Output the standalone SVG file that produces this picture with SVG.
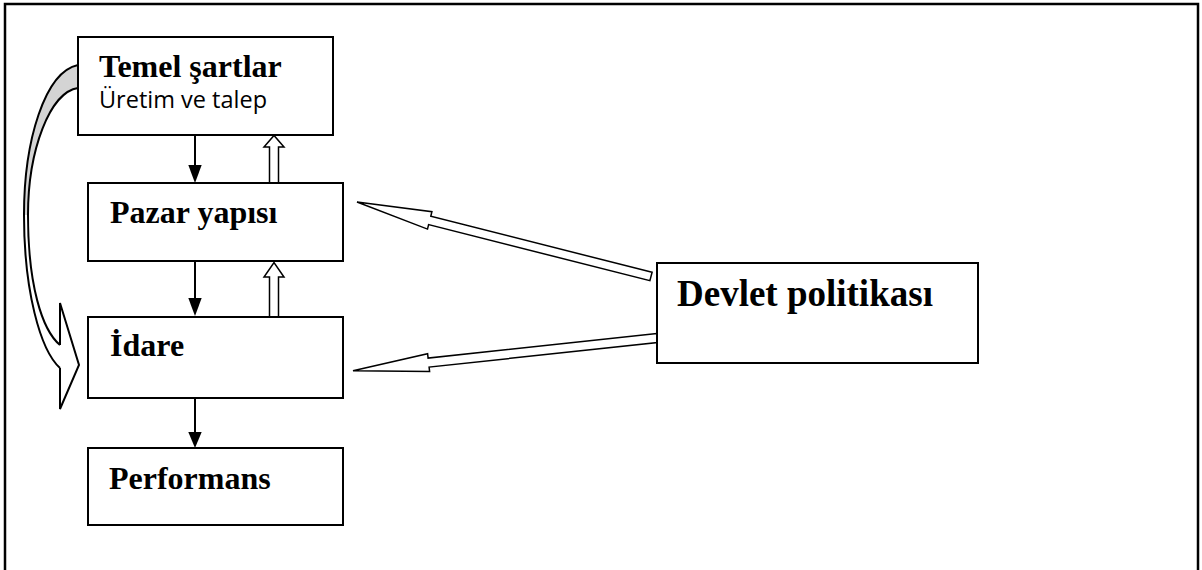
<svg xmlns="http://www.w3.org/2000/svg" width="1202" height="570" viewBox="0 0 1202 570">
<style>
.box{fill:#fff;stroke:#000;stroke-width:2}
.t{font-family:"Liberation Serif","Times New Roman",serif;font-weight:bold;font-size:32px;fill:#000}
.s{font-family:"Open Sans","Liberation Sans",sans-serif;font-size:24px;fill:#000}
.ln{stroke:#000;stroke-width:2;fill:none}
.hd{fill:#000;stroke:none}
.ho{fill:#fff;stroke:#000;stroke-width:1.5;stroke-linejoin:miter}
.cv{fill:none;stroke:#000;stroke-width:2}
</style>
<rect x="5" y="4" width="1193" height="620" fill="#fff" stroke="#000" stroke-width="2.5"/>
<g id="connectors">
  <!-- curved arrow -->
  <path d="M78,65 C45,72 24,140 24,215 L28,215 C28,150 50,92 78,88 Z" fill="#d4d4d4" stroke="none"/>
  <path d="M24,215 C24,290 40,350 60,368 L60,409 L79,365 L60,303 L60,345 C42,330 28,285 28,215 Z" fill="#fff" stroke="none"/>
  <path class="cv" d="M78,65 C45,72 24,140 24,215 C24,290 40,350 60,368"/>
  <path class="cv" d="M78,88 C50,92 28,150 28,215 C28,285 42,330 60,345"/>
  <path class="cv" d="M60,345 L60,303 L79,365 L60,409 L60,368" stroke-linejoin="miter"/>
  <!-- solid down arrows -->
  <line class="ln" x1="195" y1="135" x2="195" y2="168"/>
  <polygon class="hd" points="188.3,165 201.7,165 195,183"/>
  <line class="ln" x1="195" y1="261" x2="195" y2="300"/>
  <polygon class="hd" points="188.3,298 201.7,298 195,316"/>
  <line class="ln" x1="195" y1="398" x2="195" y2="434"/>
  <polygon class="hd" points="188.3,432 201.7,432 195,448"/>
  <!-- hollow up arrows -->
  <polygon class="ho" points="269.5,183 269.5,147 264,147 274,135.5 284,147 278.5,147 278.5,183"/>
  <polygon class="ho" points="269.5,317 269.5,277 264,277 274,262.5 284,277 278.5,277 278.5,317"/>
  <!-- Devlet -> Pazar -->
  <polygon class="ho" points="652.1,272.3 430.8,216.2 431.9,211.7 357,202 427.5,229.1 428.6,224.6 649.9,280.7"/>
  <!-- Devlet -> Idare -->
  <polygon class="ho" points="657,333.5 428.1,358.1 427.6,353.7 353,370.7 429.6,371.5 429.1,367.1 657.5,342.5"/>
</g>
<g id="temel">
  <rect class="box" x="78" y="37" width="255" height="98"/>
  <text class="t" x="99" y="77">Temel şartlar</text>
  <text class="s" x="99" y="108" textLength="168" lengthAdjust="spacingAndGlyphs">Üretim ve talep</text>
</g>
<g id="pazar">
  <rect class="box" x="88" y="183" width="255" height="78"/>
  <text class="t" x="110" y="223">Pazar yapısı</text>
</g>
<g id="idare">
  <rect class="box" x="88" y="317" width="255" height="81"/>
  <text class="t" x="110" y="356">İdare</text>
</g>
<g id="performans">
  <rect class="box" x="88" y="448" width="255" height="77"/>
  <text class="t" x="109" y="489">Performans</text>
</g>
<g id="devlet">
  <rect class="box" x="657" y="263" width="321" height="100"/>
  <text class="t" x="677" y="306" style="font-size:37px">Devlet politikası</text>
</g>
</svg>
